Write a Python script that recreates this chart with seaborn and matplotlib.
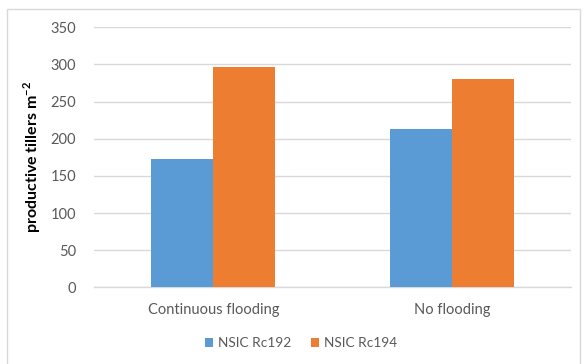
import matplotlib
matplotlib.use("Agg")
import matplotlib.pyplot as plt
from matplotlib.patches import Rectangle
import pandas as pd
import seaborn as sns

# Productive tillers per square metre by water regime and variety
treatments = ["Continuous flooding", "No flooding"]
varieties = ["NSIC Rc192", "NSIC Rc194"]
rc192 = [173, 213]
rc194 = [296, 280]
y_ticks = [0, 50, 100, 150, 200, 250, 300, 350]

df = pd.DataFrame({
    "treatment": treatments * 2,
    "variety": [varieties[0]] * len(treatments) + [varieties[1]] * len(treatments),
    "tillers": rc192 + rc194,
})

sns.set_theme(style="white")
plt.rcParams["font.family"] = ["Lato", "DejaVu Sans"]
plt.rcParams["mathtext.fontset"] = "custom"
plt.rcParams["mathtext.rm"] = "Lato"
plt.rcParams["mathtext.bf"] = "Lato:bold"

W, H = 583, 364
fig = plt.figure(figsize=(W / 100, H / 100), dpi=100)
ax = fig.add_axes([94 / W, 1 - 287.3 / H, (571 - 94) / W, (287.3 - 27.3) / H])

palette = {varieties[0]: "#5B9BD5", varieties[1]: "#ED7D31"}
sns.barplot(data=df, x="treatment", y="tillers", hue="variety",
            order=treatments, hue_order=varieties, palette=palette,
            width=0.52, saturation=1, linewidth=0, ax=ax, zorder=3)

ax.set_ylim(0, 350)
ax.set_yticks(y_ticks)
ax.set_xlim(-0.5, 1.5)
ax.yaxis.grid(True, color="#d9d9d9", linewidth=1, zorder=0)
ax.set_axisbelow(True)
for side in ["top", "right", "left"]:
    ax.spines[side].set_visible(False)
ax.spines["bottom"].set_color("#d9d9d9")
ax.spines["bottom"].set_linewidth(1)

ax.tick_params(axis="both", length=0, labelsize=10.5, labelcolor="#595959")
ax.tick_params(axis="y", pad=13)
ax.tick_params(axis="x", pad=11)
ax.set_xlabel("")
ax.set_ylabel(r"productive tillers m$^{\mathbf{-2}}$", fontsize=11.5,
              fontweight="bold", color="black")
ax.yaxis.set_label_coords((43 - 94) / (571 - 94), 0.5)

leg = ax.legend(loc="center", bbox_to_anchor=(301 / W, 1 - 343 / H),
                bbox_transform=fig.transFigure, ncol=2, frameon=False,
                fontsize=9.8, handlelength=0.6, handleheight=0.6,
                handletextpad=0.4, columnspacing=1.4)
for t in leg.get_texts():
    t.set_color("#595959")

# Chart area border
fig.patches.append(Rectangle((7 / W, -0.05), (580 - 7) / W, 1 - 9 / H + 0.05,
                             transform=fig.transFigure, fill=False,
                             edgecolor="#d9d9d9", linewidth=1))

fig.savefig("out.png", dpi=100)
